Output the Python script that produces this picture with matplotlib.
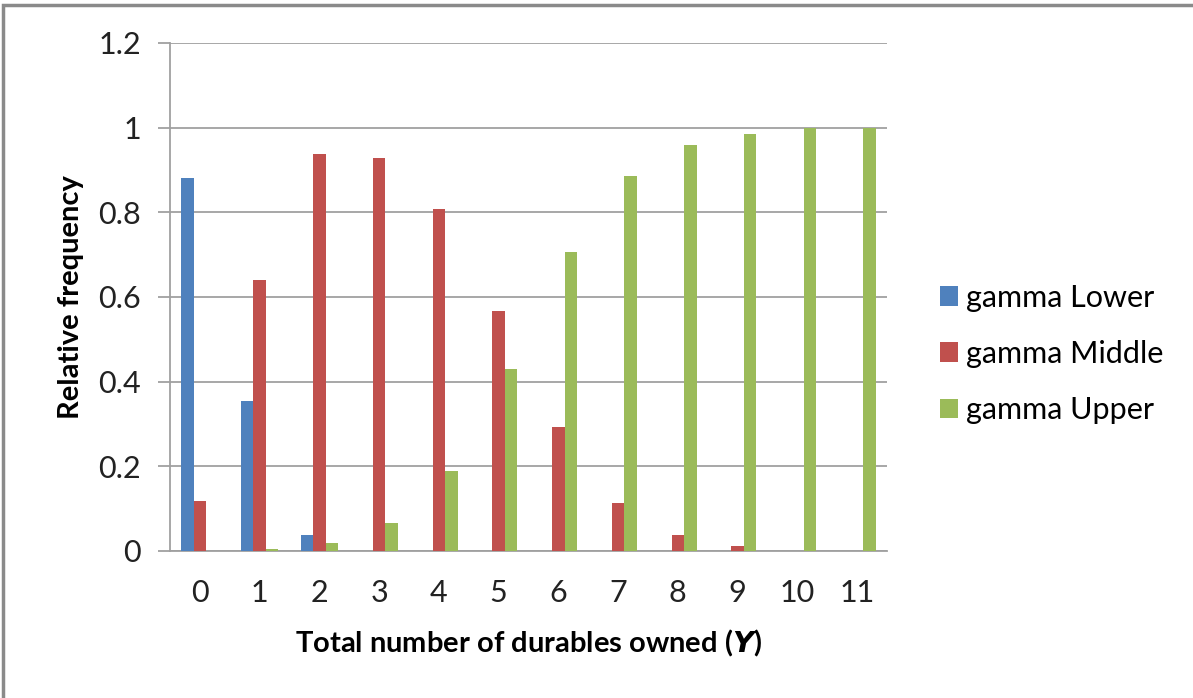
import numpy as np
import matplotlib
matplotlib.use('Agg')
import matplotlib.pyplot as plt
from matplotlib.patches import Rectangle

plt.rcParams['font.family'] = ['Lato', 'DejaVu Sans']

categories = ['0', '1', '2', '3', '4', '5', '6', '7', '8', '9', '10', '11']
lower = [0.88, 0.354, 0.037, 0, 0, 0, 0, 0, 0, 0, 0, 0]
middle = [0.118, 0.641, 0.938, 0.929, 0.808, 0.568, 0.292, 0.114, 0.037, 0.012, 0, 0]
upper = [0, 0.005, 0.02, 0.067, 0.19, 0.43, 0.706, 0.885, 0.96, 0.985, 1.0, 1.0]

fig = plt.figure(figsize=(11.93, 6.98), dpi=100)
ax = fig.add_axes([170/1193, 1 - 551/698, 717/1193, 508/698])

idx = np.arange(len(categories))
width = 0.21

ax.bar(idx - width, lower, width, color='#4f81bd', label='gamma Lower', zorder=3)
ax.bar(idx, middle, width, color='#c0504d', label='gamma Middle', zorder=3)
ax.bar(idx + width, upper, width, color='#9bbb59', label='gamma Upper', zorder=3)

ax.set_xlim(-0.5, len(categories) - 0.5)
ax.set_ylim(0, 1.2)
ax.set_yticks([0, 0.2, 0.4, 0.6, 0.8, 1.0, 1.2])
ax.set_yticklabels(['0', '0.2', '0.4', '0.6', '0.8', '1', '1.2'])
ax.set_xticks(idx)
ax.set_xticklabels(categories)

ax.yaxis.grid(True, color='#a0a0a0', linewidth=1.3, zorder=0)
ax.set_axisbelow(True)
for side in ['top', 'right']:
    ax.spines[side].set_visible(False)
ax.spines['left'].set_color('#a0a0a0')
ax.spines['bottom'].set_color('#a0a0a0')
ax.spines['left'].set_linewidth(1.3)
ax.spines['bottom'].set_linewidth(1.3)

ax.tick_params(axis='y', length=9, width=1.3, color='#a0a0a0', pad=12,
               labelsize=22, labelcolor='#222222')
ax.tick_params(axis='x', length=0, pad=20, labelsize=22, labelcolor='#222222')

ax.set_ylabel('Relative frequency', fontsize=21, fontweight='bold', labelpad=10)
ax.set_xlabel('Total number of durables owned ($\\mathbfit{Y}$)', fontsize=21,
              fontweight='bold', labelpad=15)

leg = ax.legend(loc='center left', bbox_to_anchor=(1.074, 0.388), frameon=False,
                fontsize=22, handlelength=0.6, handleheight=0.6,
                handletextpad=0.25, labelspacing=0.92,
                borderpad=0, borderaxespad=0)

# grey chart border along top and left edge
fig.patches.append(Rectangle((3/1193, -0.1), 1.2, 1.1 - 5/698, transform=fig.transFigure,
                             fill=False, edgecolor='#8a8a8a', linewidth=2.5))

plt.savefig('out.png', dpi=100)
